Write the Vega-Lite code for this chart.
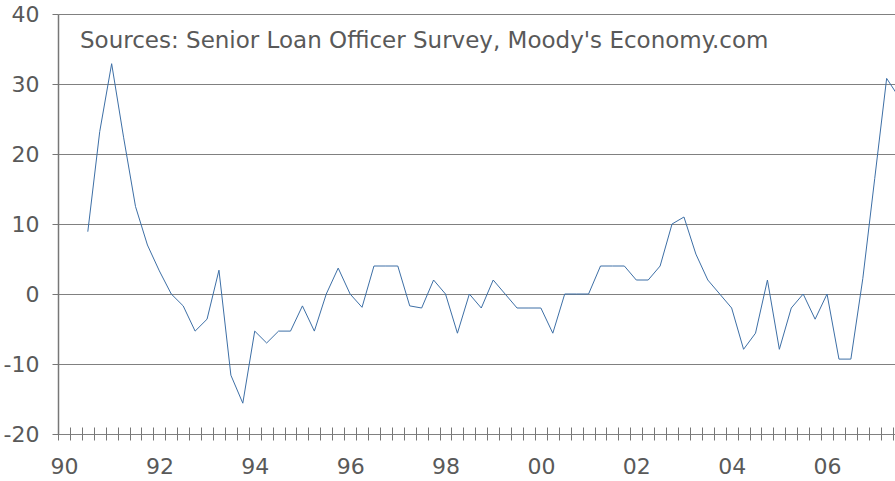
{
  "$schema": "https://vega.github.io/schema/vega-lite/v6.json",
  "width": 837,
  "height": 420,
  "autosize": "none",
  "padding": {"left": 58, "top": 14, "right": 0, "bottom": 47},
  "config": {
    "view": {"stroke": null},
    "font": "DejaVu Sans"
  },
  "layer": [
    {
      "data": {
        "values": [
          {"q": 2, "v": 8.9}, {"q": 3, "v": 23.2}, {"q": 4, "v": 32.9}, {"q": 5, "v": 22.4},
          {"q": 6, "v": 12.5}, {"q": 7, "v": 7.0}, {"q": 8, "v": 3.3}, {"q": 9, "v": 0.0},
          {"q": 10, "v": -1.7}, {"q": 11, "v": -5.3}, {"q": 12, "v": -3.6}, {"q": 13, "v": 3.4},
          {"q": 14, "v": -11.6}, {"q": 15, "v": -15.6}, {"q": 16, "v": -5.3}, {"q": 17, "v": -7.0},
          {"q": 18, "v": -5.3}, {"q": 19, "v": -5.3}, {"q": 20, "v": -1.7}, {"q": 21, "v": -5.3},
          {"q": 22, "v": 0.0}, {"q": 23, "v": 3.7}, {"q": 24, "v": 0.0}, {"q": 25, "v": -1.9},
          {"q": 26, "v": 4.0}, {"q": 27, "v": 4.0}, {"q": 28, "v": 4.0}, {"q": 29, "v": -1.7},
          {"q": 30, "v": -2.0}, {"q": 31, "v": 2.0}, {"q": 32, "v": 0.0}, {"q": 33, "v": -5.6},
          {"q": 34, "v": 0.0}, {"q": 35, "v": -2.0}, {"q": 36, "v": 2.0}, {"q": 37, "v": 0.0},
          {"q": 38, "v": -2.0}, {"q": 39, "v": -2.0}, {"q": 40, "v": -2.0}, {"q": 41, "v": -5.6},
          {"q": 42, "v": 0.0}, {"q": 43, "v": 0.0}, {"q": 44, "v": 0.0}, {"q": 45, "v": 4.0},
          {"q": 46, "v": 4.0}, {"q": 47, "v": 4.0}, {"q": 48, "v": 2.0}, {"q": 49, "v": 2.0},
          {"q": 50, "v": 4.0}, {"q": 51, "v": 10.0}, {"q": 52, "v": 11.0}, {"q": 53, "v": 5.7},
          {"q": 54, "v": 2.0}, {"q": 55, "v": 0.0}, {"q": 56, "v": -2.0}, {"q": 57, "v": -7.9},
          {"q": 58, "v": -5.6}, {"q": 59, "v": 2.0}, {"q": 60, "v": -7.9}, {"q": 61, "v": -2.0},
          {"q": 62, "v": 0.0}, {"q": 63, "v": -3.6}, {"q": 64, "v": 0.0}, {"q": 65, "v": -9.3},
          {"q": 66, "v": -9.3}, {"q": 67, "v": 2.2}, {"q": 68, "v": 16.5}, {"q": 69, "v": 30.8},
          {"q": 70, "v": 28.2}
        ]
      },
      "mark": {"type": "line", "color": "#3d6fa6", "strokeWidth": 1, "clip": true},
      "encoding": {
        "x": {
          "field": "q", "type": "quantitative",
          "scale": {"domain": [-0.5, 69.7], "nice": false, "zero": false},
          "axis": {
            "title": null,
            "values": [-0.5,0.5,1.5,2.5,3.5,4.5,5.5,6.5,7.5,8.5,9.5,10.5,11.5,12.5,13.5,14.5,15.5,16.5,17.5,18.5,19.5,20.5,21.5,22.5,23.5,24.5,25.5,26.5,27.5,28.5,29.5,30.5,31.5,32.5,33.5,34.5,35.5,36.5,37.5,38.5,39.5,40.5,41.5,42.5,43.5,44.5,45.5,46.5,47.5,48.5,49.5,50.5,51.5,52.5,53.5,54.5,55.5,56.5,57.5,58.5,59.5,60.5,61.5,62.5,63.5,64.5,65.5,66.5,67.5,68.5,69.5],
            "tickCount": 500,
            "labelExpr": "(datum.value + 0.5) % 8 === 0 ? (((90 + (datum.value + 0.5) / 4) % 100) < 10 ? '0' + ((90 + (datum.value + 0.5) / 4) % 100) : '' + ((90 + (datum.value + 0.5) / 4) % 100)) : ''",
            "labelOverlap": false,
            "labelFlush": false,
            "labelBound": false,
            "labelOffset": 6,
            "labelPadding": 16,
            "labelFontSize": 22,
            "labelColor": "#595959",
            "labelFont": "DejaVu Sans",
            "offset": -7,
            "tickSize": 13,
            "tickColor": "#777777",
            "tickWidth": 1,
            "domain": false,
            "grid": false
          }
        },
        "y": {
          "field": "v", "type": "quantitative",
          "scale": {"domain": [-20, 40], "nice": false, "zero": false},
          "axis": {
            "title": null,
            "values": [-20, -10, 0, 10, 20, 30, 40],
            "labelExpr": "'' + datum.value",
            "grid": true,
            "gridColor": "#808080",
            "gridWidth": 1,
            "gridOpacity": 1,
            "domain": true,
            "domainColor": "#777777",
            "domainWidth": 1.5,
            "tickSize": 6,
            "tickColor": "#777777",
            "labelPadding": 13,
            "labelFontSize": 22,
            "labelColor": "#595959",
            "labelFont": "DejaVu Sans"
          }
        }
      }
    },
    {
      "data": {"values": [{"note": "Sources: Senior Loan Officer Survey, Moody's Economy.com"}]},
      "mark": {"type": "text", "align": "left", "baseline": "alphabetic", "fontSize": 23, "color": "#595959", "font": "DejaVu Sans"},
      "encoding": {
        "x": {"datum": 1.345, "type": "quantitative"},
        "y": {"datum": 35.14, "type": "quantitative"},
        "text": {"field": "note", "type": "nominal"}
      }
    }
  ]
}
